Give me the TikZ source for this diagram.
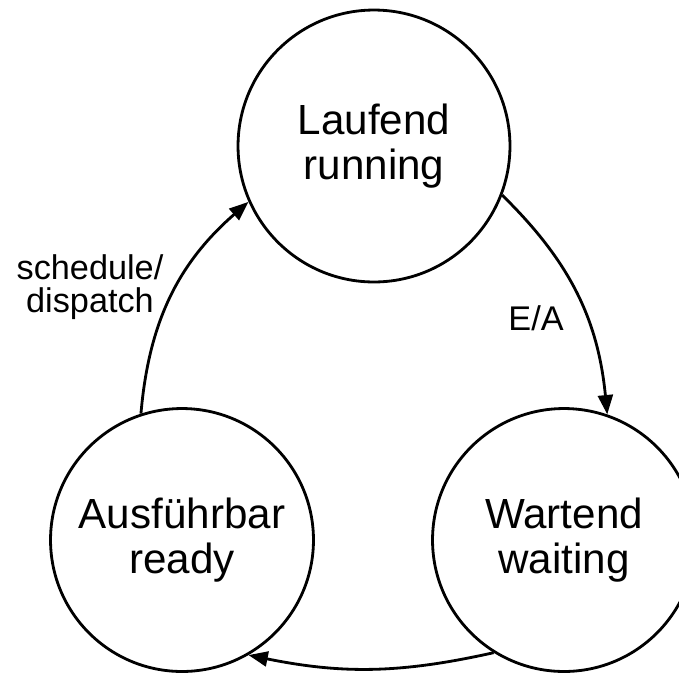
\documentclass[tikz,border=0pt]{standalone}
\usepackage{fontspec}
\setmainfont{Liberation Sans}
\usetikzlibrary{arrows.meta}

\begin{document}
\begin{tikzpicture}[x=0.02cm, y=-0.02cm]
  \useasboundingbox (0,0) rectangle (679,674);

  \tikzset{
    state/.style={draw, circle, line width=1.6pt, minimum size=#1, inner sep=0pt,
      align=center, font=\fontsize{24}{26}\selectfont},
    trans/.style={line width=1.6pt, -{Triangle[length=11pt,width=8.5pt]}},
    lbl/.style={align=center, font=\fontsize{19.5}{18.7}\selectfont}
  }

  % Draw the states first

  \node[state=5.44cm] (running) at (374,146) {Laufend\\running};
  \node[state=5.26cm] (ready)   at (182,540) {Ausführbar\\ready};
  \node[state=5.26cm] (waiting) at (564,540) {Wartend\\waiting};

  % Then the transitions

  \draw[trans] (ready.108) to[bend left=22] (running.204);
  \draw[trans] (running.-21) to[bend left=20] (waiting.71);
  \draw[trans] (waiting.238) to[bend left=12] (ready.300);

  \node[lbl] (dispatch) at (90,287) {schedule/\\dispatch};
  \node[lbl] (ea) at (536,318) {E/A};
\end{tikzpicture}
\end{document}
